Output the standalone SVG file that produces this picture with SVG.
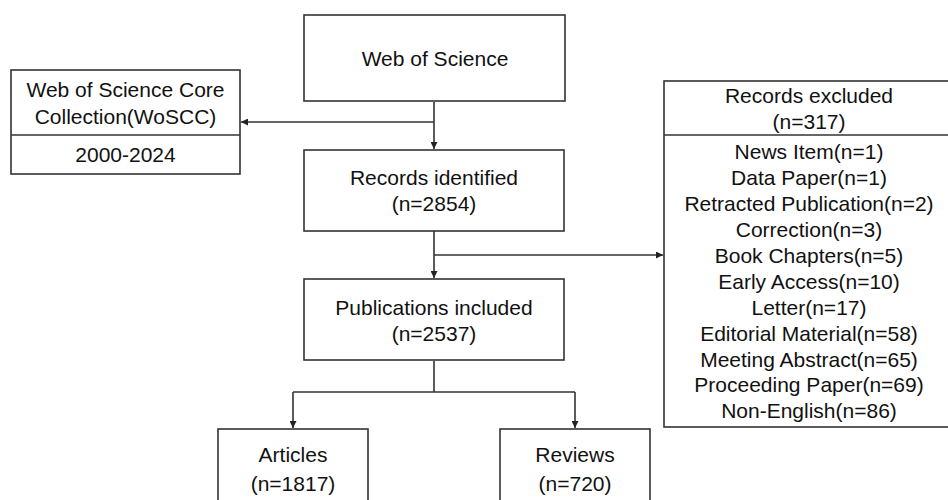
<svg xmlns="http://www.w3.org/2000/svg" width="948" height="500" viewBox="0 0 948 500">
<style>
.box{fill:#fff;stroke:#333;stroke-width:1.6}
.ln{fill:none;stroke:#333;stroke-width:1.6}
text{font-family:"Liberation Sans",Arial,sans-serif;font-size:21px;fill:#111;text-anchor:middle}
</style>
<defs>
<marker id="ah" viewBox="0 0 10 10" refX="10" refY="5" markerWidth="7" markerHeight="7" markerUnits="userSpaceOnUse" orient="auto">
<path d="M0,0 L10,5 L0,10 z" fill="#222"/>
</marker>
</defs>
<rect width="948" height="500" fill="#fff"/>
<g id="connectors">
<path class="ln" d="M434,102 V149" marker-end="url(#ah)"/>
<path class="ln" d="M434,122 H241" marker-end="url(#ah)"/>
<path class="ln" d="M434,231 V278" marker-end="url(#ah)"/>
<path class="ln" d="M434,255 H663" marker-end="url(#ah)"/>
<path class="ln" d="M434,361 V392"/>
<path class="ln" d="M293,392 H575"/>
<path class="ln" d="M293,392 V428" marker-end="url(#ah)"/>
<path class="ln" d="M575,392 V428" marker-end="url(#ah)"/>
</g>
<g id="wos">
<rect class="box" x="304" y="15" width="261" height="86"/>
<text x="435" y="66">Web of Science</text>
</g>
<g id="woscc">
<rect class="box" x="11" y="70" width="229" height="104"/>
<line class="ln" x1="11" y1="135" x2="240" y2="135"/>
<text x="125.5" y="97">Web of Science Core</text>
<text x="125.5" y="124">Collection(WoSCC)</text>
<text x="125.5" y="162">2000-2024</text>
</g>
<g id="identified">
<rect class="box" x="304" y="150" width="260" height="81"/>
<text x="434" y="185">Records identified</text>
<text x="434" y="211">(n=2854)</text>
</g>
<g id="included">
<rect class="box" x="304" y="279" width="260" height="81"/>
<text x="434" y="315">Publications included</text>
<text x="434" y="341">(n=2537)</text>
</g>
<g id="excluded">
<rect class="box" x="664" y="81" width="292" height="346"/>
<line class="ln" x1="664" y1="135" x2="956" y2="135"/>
<text x="809" y="103">Records excluded</text>
<text x="809" y="129">(n=317)</text>
<text x="809" y="159.3">News Item(n=1)</text>
<text x="809" y="185.2">Data Paper(n=1)</text>
<text x="809" y="211.1">Retracted Publication(n=2)</text>
<text x="809" y="237">Correction(n=3)</text>
<text x="809" y="262.9">Book Chapters(n=5)</text>
<text x="809" y="288.8">Early Access(n=10)</text>
<text x="809" y="314.7">Letter(n=17)</text>
<text x="809" y="340.6">Editorial Material(n=58)</text>
<text x="809" y="366.5">Meeting Abstract(n=65)</text>
<text x="809" y="392.4">Proceeding Paper(n=69)</text>
<text x="809" y="418.3">Non-English(n=86)</text>
</g>
<g id="articles">
<rect class="box" x="218" y="429" width="150" height="90"/>
<text x="293" y="462">Articles</text>
<text x="293" y="491">(n=1817)</text>
</g>
<g id="reviews">
<rect class="box" x="500" y="429" width="150" height="90"/>
<text x="575" y="462">Reviews</text>
<text x="575" y="491">(n=720)</text>
</g>
</svg>
